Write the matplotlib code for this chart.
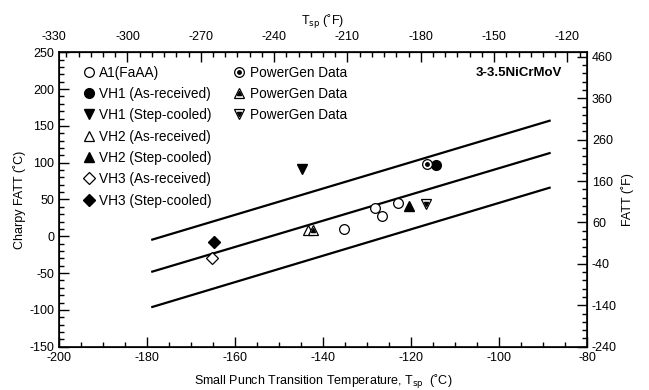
import matplotlib
matplotlib.use("Agg")
import matplotlib.pyplot as plt
from matplotlib.ticker import FixedLocator, MultipleLocator
import numpy as np

plt.rcParams['font.family'] = ['Liberation Sans', 'DejaVu Sans']
plt.rcParams['font.size'] = 9
plt.rcParams['axes.unicode_minus'] = False

# data (deg C)
a1_tsp = [-135.2, -128.2, -126.7, -122.9]
a1_fatt = [10.4, 38.5, 28.0, 45.3]
vh1_ar_tsp = [-114.3]
vh1_ar_fatt = [97.0]
vh1_sc_tsp = [-144.7]
vh1_sc_fatt = [91.7]
vh2_ar_tsp = [-143.3]
vh2_ar_fatt = [9.0]
vh2_sc_tsp = [-120.4]
vh2_sc_fatt = [41.6]
vh3_ar_tsp = [-165.2]
vh3_ar_fatt = [-30.0]
vh3_sc_tsp = [-164.7]
vh3_sc_fatt = [-7.6]
pg1_tsp = [-116.4]
pg1_fatt = [98.5]
pg2_tsp = [-142.2]
pg2_fatt = [9.0]
pg3_tsp = [-116.7]
pg3_fatt = [43.9]

# fit line and scatter band end points
line_tsp = [-178.8, -88.5]
upper_fatt = [-4.5, 157.0]
mid_fatt = [-48.0, 113.0]
lower_fatt = [-96.0, 66.0]


def c2f(c):
    return c * 9.0 / 5.0 + 32.0


def f2c(f):
    return (f - 32.0) * 5.0 / 9.0


fig = plt.figure(figsize=(6.49, 3.90), dpi=100)
ax = fig.add_axes([0.0909, 0.111, 0.8136, 0.755])

ax.plot(line_tsp, upper_fatt, color='black', lw=1.6)
ax.plot(line_tsp, mid_fatt, color='black', lw=1.6)
ax.plot(line_tsp, lower_fatt, color='black', lw=1.6)

ms = 7
op = dict(linestyle='none', markerfacecolor='white', markeredgecolor='black', markeredgewidth=0.9, ms=ms)
fl = dict(linestyle='none', color='black', ms=ms)

h_a1, = ax.plot(a1_tsp, a1_fatt, marker='o', **op)
h_vh1ar, = ax.plot(vh1_ar_tsp, vh1_ar_fatt, marker='o', **fl)
h_vh1sc, = ax.plot(vh1_sc_tsp, vh1_sc_fatt, marker='v', **fl)
h_vh2ar, = ax.plot(vh2_ar_tsp, vh2_ar_fatt, marker='^', **op)
h_vh2sc, = ax.plot(vh2_sc_tsp, vh2_sc_fatt, marker='^', **fl)
h_vh3ar, = ax.plot(vh3_ar_tsp, vh3_ar_fatt, marker='D', ms=6, linestyle='none',
                   markerfacecolor='white', markeredgecolor='black', markeredgewidth=0.9)
h_vh3sc, = ax.plot(vh3_sc_tsp, vh3_sc_fatt, marker='D', ms=6, linestyle='none', color='black')

# PowerGen markers: open outline with a small filled core
h_pg1a, = ax.plot(pg1_tsp, pg1_fatt, marker='o', **op)
h_pg1b, = ax.plot(pg1_tsp, pg1_fatt, marker='o', linestyle='none', color='black', ms=2.5)
h_pg2a, = ax.plot(pg2_tsp, pg2_fatt, marker='^', **op)
h_pg2b, = ax.plot(pg2_tsp, pg2_fatt, marker='^', linestyle='none', color='black', ms=3)
h_pg3a, = ax.plot(pg3_tsp, pg3_fatt, marker='v', **op)
h_pg3b, = ax.plot(pg3_tsp, pg3_fatt, marker='v', linestyle='none', color='black', ms=3)

ax.set_xlim(-200, -80)
ax.set_ylim(-150, 250)
ax.xaxis.set_major_locator(MultipleLocator(20))
ax.xaxis.set_minor_locator(MultipleLocator(5))
ax.yaxis.set_major_locator(MultipleLocator(50))
ax.yaxis.set_minor_locator(MultipleLocator(10))
ax.tick_params(which='both', direction='in', width=1)
ax.tick_params(which='major', length=7)
ax.tick_params(which='minor', length=3.5)
for s in ax.spines.values():
    s.set_linewidth(1.2)

ax.set_xlabel('Small Punch Transition Temperature, T$_{\\mathrm{sp}}$  (\u02daC)', labelpad=7)
ax.set_ylabel('Charpy FATT (\u02daC)', labelpad=2)

# top axis in deg F
top_pad = 7
top = ax.secondary_xaxis('top', functions=(c2f, f2c))
top.xaxis.set_major_locator(FixedLocator(np.arange(-300, -110, 30)))
top.xaxis.set_minor_locator(FixedLocator(np.arange(-325, -110, 5)))
top.tick_params(which='both', direction='in', width=1, pad=top_pad)
top.tick_params(which='major', length=7)
top.tick_params(which='minor', length=3.5)
top.set_xlabel('T$_{\\mathrm{sp}}$ (\u02daF)', labelpad=4)
# -330 F lies just outside the C range, label it by hand
ax.annotate('-330', xy=(f2c(-330), 1.0), xycoords=ax.get_xaxis_transform(),
            xytext=(0, top_pad), textcoords='offset points',
            ha='center', va='bottom', fontsize=9, annotation_clip=False)

# right axis in deg F
right = ax.twinx()
right.set_ylim(-240, 471)
right.yaxis.set_major_locator(FixedLocator(np.arange(-240, 461, 100)))
right.yaxis.set_minor_locator(FixedLocator(np.arange(-240, 471, 20)))
right.tick_params(which='both', direction='in', width=1)
right.tick_params(which='major', length=7)
right.tick_params(which='minor', length=3.5)
right.set_ylabel('FATT (\u02daF)', labelpad=3)

leg1 = ax.legend([h_a1, h_vh1ar, h_vh1sc, h_vh2ar, h_vh2sc, h_vh3ar, h_vh3sc],
                 ['A1(FaAA)', 'VH1 (As-received)', 'VH1 (Step-cooled)', 'VH2 (As-received)',
                  'VH2 (Step-cooled)', 'VH3 (As-received)', 'VH3 (Step-cooled)'],
                 loc='upper left', bbox_to_anchor=(0.045, 0.955), frameon=False,
                 handlelength=0.9, handletextpad=0.3, labelspacing=0.54,
                 borderaxespad=0, borderpad=0, fontsize=9.8)
ax.add_artist(leg1)
ax.legend([(h_pg1a, h_pg1b), (h_pg2a, h_pg2b), (h_pg3a, h_pg3b)],
          ['PowerGen Data', 'PowerGen Data', 'PowerGen Data'],
          loc='upper left', bbox_to_anchor=(0.33, 0.955), frameon=False,
          handlelength=0.9, handletextpad=0.3, labelspacing=0.54,
          borderaxespad=0, borderpad=0, fontsize=9.8)

ax.text(0.79, 0.929, '3-3.5NiCrMoV', transform=ax.transAxes, ha='left', va='center',
        fontsize=9.5, fontweight='bold')

fig.savefig('out.png', dpi=100)
